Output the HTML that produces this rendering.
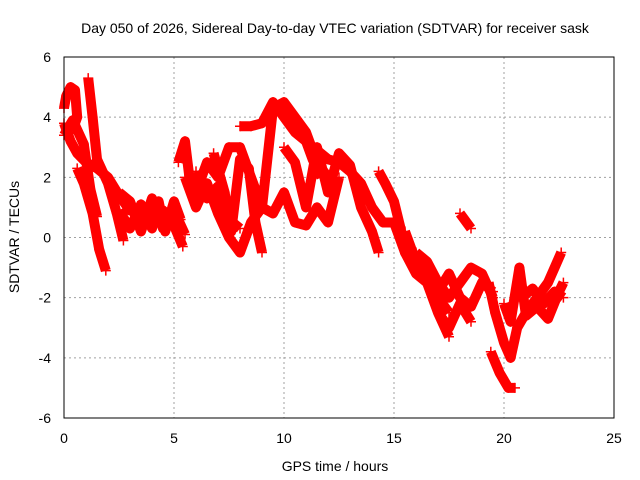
<!DOCTYPE html>
<html><head><meta charset="utf-8"><style>
body{margin:0;background:#fff}
svg{display:block;font-family:"Liberation Sans",sans-serif}
</style></head><body>
<svg width="640" height="480" viewBox="0 0 640 480">
<rect width="640" height="480" fill="#fff"/>
<text x="335" y="33" font-size="14" text-anchor="middle">Day 050 of 2026, Sidereal Day-to-day VTEC variation (SDTVAR) for receiver sask</text>
<g id="grid"></g>
<g id="series"></g>
<rect x="64" y="57" width="550" height="361" fill="none" stroke="#000" stroke-width="1"/>
<g id="ticks"></g>
<text x="335" y="471" font-size="14" text-anchor="middle">GPS time / hours</text>
<text x="19" y="237" font-size="14" text-anchor="middle" transform="rotate(-90 19 237)">SDTVAR / TECUs</text>
</svg>
<script>
const xTicks=[0,5,10,15,20,25];
const yTicks=[-6,-4,-2,0,2,4,6];
const track1=[[0,4.3],[0.1,4.7],[0.3,5],[0.5,4.9],[0.6,4.0],[0.4,3.6]];
const track2=[[0,3.8],[0.3,3.2],[0.6,2.8],[1,2.5],[1.5,2.3],[2,2],[2.5,1.4],[3,0.9],[3.5,0.8],[4,0.6],[4.5,0.9],[5,0.4],[5.4,-0.3]];
const track3=[[1.1,5.3],[1.3,4],[1.5,2.6],[2,1.8],[2.4,0.8],[2.7,-0.1]];
const track4=[[0,3.4],[0.4,3.9],[0.9,3.1],[1.2,1.6],[1.5,0.7]];
const track5=[[0.6,2.3],[0.9,1.8],[1.3,0.8],[1.6,-0.4],[1.9,-1.1]];
const track6=[[2.5,0.9],[3,0.3],[3.5,1.1],[4,0.3],[4.3,1.2],[4.6,0.2],[5,1.2],[5.3,0.6]];
const track7=[[5.2,2.5],[5.5,3.2],[5.7,2],[6,1.5],[6.5,2.5],[7,2],[7.5,3],[8,3],[8.5,2],[9,1],[9.5,4.3],[10,4.5],[10.5,4],[11,3.5],[11.5,2.5],[12,2]];
const track8=[[5.5,2],[6,1],[6.5,1.8],[7,0.8],[7.5,0],[8,-0.5],[8.5,0.5],[9,1],[9.5,0.8],[10,1.5],[10.5,0.5],[11,0.4],[11.5,1],[12,0.5],[12.5,2]];
const track9=[[6.8,2.8],[7.3,1.5],[7.6,0.2],[8,2.6],[8.4,2.3],[8.7,0.5],[9,-0.5]];
const track10=[[8,3.7],[8.5,3.7],[9,3.8],[9.5,4.5],[10,4],[10.5,3.5],[11,3.2],[12,2.6],[12.5,2.5],[13,2.2],[13.5,1.8],[14,1],[14.5,0.5],[15,0.5],[15.5,-0.5],[16,-1],[16.5,-1.5],[17,-2],[17.5,-2.5]];
const track11=[[10,3],[10.5,2.5],[11,1],[11.5,3],[12,1.5],[12.5,2.8],[13,2.4],[13.5,1],[14,0.2],[14.3,-0.5]];
const track12=[[14.3,2.2],[14.6,1.8],[15,1.2],[15.3,0.3],[15.5,-0.5],[16,-1.2],[16.5,-1.5],[17,-2.5],[17.5,-3.3]];
const track13=[[16,-0.5],[16.5,-0.8],[17,-1.5],[17.5,-2],[18,-1.5],[18.5,-1],[19,-1.2],[19.5,-2]];
const track14=[[18,0.8],[18.3,0.5],[18.5,0.3]];
const track15=[[19.4,-3.8],[19.8,-4.5],[20.2,-5],[20.5,-5]];
const track16=[[19.3,-1.5],[19.6,-2.5],[20,-3.5],[20.3,-4],[20.6,-3],[21,-2.5],[21.5,-2],[22,-1.5],[22.3,-1],[22.6,-0.5]];
const track17=[[20,-2.2],[20.3,-2.8],[20.7,-1],[21,-2.6],[21.5,-2.3],[22,-2.7],[22.5,-1.8],[22.7,-1.5]];
const track18=[[2.5,1.5],[3,1.2],[3.5,0.2],[4,1.3],[4.5,0.3],[5,0.9],[5.5,0.1]];
const track19=[[15.5,0.2],[16,-0.8],[16.5,-1.2],[17,-1.8],[17.5,-1.2],[18,-2],[18.5,-2.3],[19,-1.5],[19.5,-1.8]];
const track20=[[17,-2.5],[17.5,-3],[18,-2.2],[18.5,-2.8]];
const track21=[[20.8,-2],[21.3,-1.7],[21.8,-2.2],[22.3,-1.8],[22.7,-2]];
const track22=[[9.3,4.2],[9.8,4.4],[10.3,3.8],[10.8,3.6],[11.3,2.6],[11.7,2]];
const track23=[[6,2.2],[6.5,1.3],[7,1.7],[7.5,0.6],[8,0.3]];
const tracks=[track1,track2,track3,track4,track5,track6,track7,track8,track9,track10,track11,track12,track13,track14,track15,track16,track17,track18,track19,track20,track21,track22,track23];
const NS="http://www.w3.org/2000/svg";
function xs(h){return 64+h*22;}
function ys(v){return 237.5-v*30.08;}
const grid=document.getElementById('grid'),ticks=document.getElementById('ticks'),ser=document.getElementById('series');
xTicks.forEach(t=>{
 if(t>0&&t<25){const l=document.createElementNS(NS,'line');
 
 
 l.setAttribute('x1',xs(t));l.setAttribute('x2',xs(t));l.setAttribute('y1',57);l.setAttribute('y2',418);
 l.setAttribute('stroke','#a0a0a0');l.setAttribute('stroke-dasharray','2,3');grid.appendChild(l);}
 const tx=document.createElementNS(NS,'text');
 
 
 tx.setAttribute('x',xs(t));tx.setAttribute('y',443);tx.setAttribute('font-size','14');tx.setAttribute('text-anchor','middle');
 tx.textContent=t;ticks.appendChild(tx);
});
yTicks.forEach(t=>{
 if(t>-6&&t<6){const l=document.createElementNS(NS,'line');
 
 
 l.setAttribute('x1',64);l.setAttribute('x2',614);l.setAttribute('y1',ys(t));l.setAttribute('y2',ys(t));
 l.setAttribute('stroke','#a0a0a0');l.setAttribute('stroke-dasharray','2,3');grid.appendChild(l);}
 const tx=document.createElementNS(NS,'text');
 
 
 tx.setAttribute('x',51);tx.setAttribute('y',ys(t)+5);tx.setAttribute('font-size','14');tx.setAttribute('text-anchor','end');
 tx.textContent=t;ticks.appendChild(tx);
});
tracks.forEach(tr=>{
 const p=document.createElementNS(NS,'polyline');
 
 
 p.setAttribute('points',tr.map(d=>xs(d[0])+','+ys(d[1])).join(' '));
 p.setAttribute('fill','none');p.setAttribute('stroke','#f00');p.setAttribute('stroke-width','10');p.setAttribute('stroke-linejoin','round');
 ser.appendChild(p);
 tr.forEach(d=>{
  const m=document.createElementNS(NS,'path');
  
  
  const x=xs(d[0]),y=ys(d[1]);
  m.setAttribute('d',`M${x-5},${y}H${x+5}M${x},${y-5}V${y+5}`);
  m.setAttribute('stroke','#f00');m.setAttribute('stroke-width','1.5');
  ser.appendChild(m);
 });
});
</script>
</body></html>
